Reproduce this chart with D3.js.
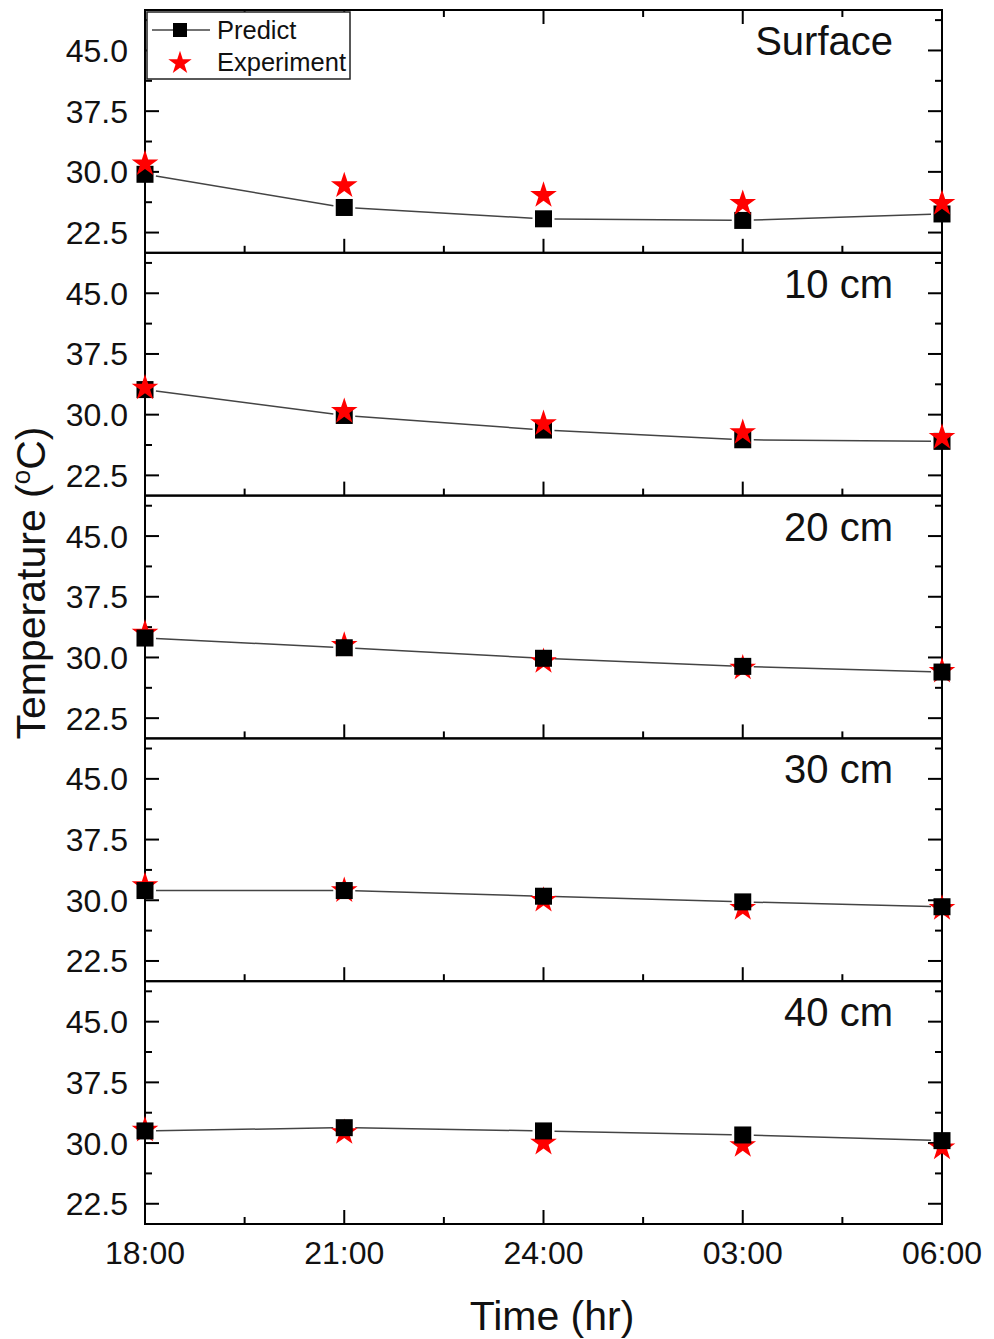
<!DOCTYPE html>
<html>
<head>
<meta charset="utf-8">
<script src="https://cdn.jsdelivr.net/npm/d3@7"></script>
<style>
  html, body { margin: 0; padding: 0; background: #fff; }
  text { font-family: "Liberation Sans", Arial, sans-serif; }
</style>
</head>
<body>
<svg id="chart" width="994" height="1339"></svg>
<script>
// ---------- data ----------
const timeLabels = ["18:00", "21:00", "24:00", "03:00", "06:00"];
const hours = [0, 3, 6, 9, 12];               // hours after 18:00
const depths = ["Surface", "10 cm", "20 cm", "30 cm", "40 cm"];
const yTickValues = [22.5, 30.0, 37.5, 45.0];

const predictSurface = [29.7, 25.6, 24.2, 24.0, 24.8];
const predict10 = [33.1, 29.9, 28.1, 26.9, 26.7];
const predict20 = [32.4, 31.2, 29.9, 28.9, 28.2];
const predict30 = [31.2, 31.2, 30.5, 29.8, 29.2];
const predict40 = [31.5, 31.9, 31.5, 31.0, 30.3];

const experimentSurface = [31.0, 28.3, 27.1, 26.1, 26.1];
const experiment10 = [33.3, 30.4, 28.9, 27.8, 27.2];
const experiment20 = [33.0, 31.5, 29.5, 28.7, 28.3];
const experiment30 = [31.8, 31.2, 30.0, 29.0, 29.0];
const experiment40 = [31.6, 31.3, 30.0, 29.7, 29.4];

const predictSeries = [predictSurface, predict10, predict20, predict30, predict40];
const experimentSeries = [experimentSurface, experiment10, experiment20, experiment30, experiment40];

// ---------- layout ----------
const svg = d3.select("#chart");
const left = 145, right = 942, top0 = 10, panelH = 242.8;
const x = d3.scaleLinear().domain([0, 12]).range([left, right]);
const minorX = [1.5, 4.5, 7.5, 10.5];
const minorY = [26.25, 33.75, 41.25, 48.75];
const majorLen = 14, minorLen = 7;

const starPath = d3.symbol().type(d3.symbolStar).size(220)();
const sq = 17;

depths.forEach((name, i) => {
  const pTop = top0 + i * panelH;
  const pBot = pTop + panelH;
  const y = d3.scaleLinear().domain([20, 50]).range([pBot, pTop]);
  const g = svg.append("g");

  // frame
  g.append("rect").attr("x", left).attr("y", pTop).attr("width", right - left).attr("height", panelH)
    .attr("fill", "none").attr("stroke", "#000").attr("stroke-width", 2);

  // y ticks (left and right, inward)
  const yt = [...yTickValues.map(v => [v, majorLen]), ...minorY.map(v => [v, minorLen])];
  yt.forEach(([v, len]) => {
    g.append("line").attr("x1", left).attr("x2", left + len).attr("y1", y(v)).attr("y2", y(v))
      .attr("stroke", "#000").attr("stroke-width", 2);
    g.append("line").attr("x1", right).attr("x2", right - len).attr("y1", y(v)).attr("y2", y(v))
      .attr("stroke", "#000").attr("stroke-width", 2);
  });
  yTickValues.forEach(v => {
    g.append("text").attr("x", 128).attr("y", y(v)).attr("dy", "0.36em")
      .attr("text-anchor", "end").attr("font-size", 32).attr("fill", "#111")
      .text(v.toFixed(1));
  });

  // x ticks (bottom inward, and top of first panel)
  const xt = [...hours.map(h => [h, majorLen]), ...minorX.map(h => [h, minorLen])];
  xt.forEach(([h, len]) => {
    g.append("line").attr("x1", x(h)).attr("x2", x(h)).attr("y1", pBot).attr("y2", pBot - len)
      .attr("stroke", "#000").attr("stroke-width", 2);
    if (i === 0) {
      g.append("line").attr("x1", x(h)).attr("x2", x(h)).attr("y1", pTop).attr("y2", pTop + len)
        .attr("stroke", "#000").attr("stroke-width", 2);
    }
  });

  // panel label
  g.append("text").attr("x", 893).attr("y", pTop + 45).attr("text-anchor", "end")
    .attr("font-size", 40).attr("fill", "#111").text(name);

  // predict line with gaps near symbols
  const pts = hours.map((h, k) => [x(h), y(predictSeries[i][k])]);
  const gap = 11;
  for (let k = 0; k < pts.length - 1; k++) {
    const [x1, y1] = pts[k], [x2, y2] = pts[k + 1];
    const dx = x2 - x1, dy = y2 - y1, L = Math.hypot(dx, dy);
    g.append("line")
      .attr("x1", x1 + dx / L * gap).attr("y1", y1 + dy / L * gap)
      .attr("x2", x2 - dx / L * gap).attr("y2", y2 - dy / L * gap)
      .attr("stroke", "#444").attr("stroke-width", 1.5);
  }

  const drawSquares = () => g.append("g").selectAll("rect").data(predictSeries[i]).join("rect")
    .attr("x", (d, k) => x(hours[k]) - sq / 2).attr("y", d => y(d) - sq / 2)
    .attr("width", sq).attr("height", sq).attr("fill", "#000");
  const drawStars = () => g.append("g").selectAll("path").data(experimentSeries[i]).join("path")
    .attr("d", starPath)
    .attr("transform", (d, k) => `translate(${x(hours[k])},${y(d)})`)
    .attr("fill", "#ff0000");

  if (i < 2) { drawSquares(); drawStars(); } else { drawStars(); drawSquares(); }
});

// x tick labels
const bottom = top0 + 5 * panelH;
timeLabels.forEach((t, k) => {
  svg.append("text").attr("x", x(hours[k])).attr("y", bottom + 40).attr("text-anchor", "middle")
    .attr("font-size", 32).attr("fill", "#111").text(t);
});

// axis titles
svg.append("text").attr("x", 552).attr("y", 1330).attr("text-anchor", "middle")
  .attr("font-size", 41).attr("fill", "#111").text("Time (hr)");

const yTitle = svg.append("text")
  .attr("transform", `translate(45, ${top0 + 2.36 * panelH}) rotate(-90)`)
  .attr("text-anchor", "middle").attr("font-size", 41).attr("fill", "#111");
yTitle.append("tspan").text("Temperature (");
yTitle.append("tspan").attr("font-size", 26).attr("dy", -15).text("o");
yTitle.append("tspan").attr("dy", 15).text("C)");

// legend
const lg = svg.append("g");
lg.append("rect").attr("x", 147).attr("y", 12).attr("width", 203).attr("height", 67)
  .attr("fill", "#fff").attr("stroke", "#222").attr("stroke-width", 1.5);
lg.append("line").attr("x1", 152).attr("x2", 210).attr("y1", 30).attr("y2", 30)
  .attr("stroke", "#444").attr("stroke-width", 1.5);
lg.append("rect").attr("x", 180 - 7).attr("y", 30 - 7).attr("width", 14).attr("height", 14).attr("fill", "#000");
lg.append("path").attr("d", d3.symbol().type(d3.symbolStar).size(170)())
  .attr("transform", "translate(180,63)").attr("fill", "#ff0000");
lg.append("text").attr("x", 217).attr("y", 30).attr("dy", "0.36em").attr("font-size", 25.5)
  .attr("fill", "#111").text("Predict");
lg.append("text").attr("x", 217).attr("y", 62).attr("dy", "0.36em").attr("font-size", 25.5)
  .attr("fill", "#111").text("Experiment");
</script>
</body>
</html>
